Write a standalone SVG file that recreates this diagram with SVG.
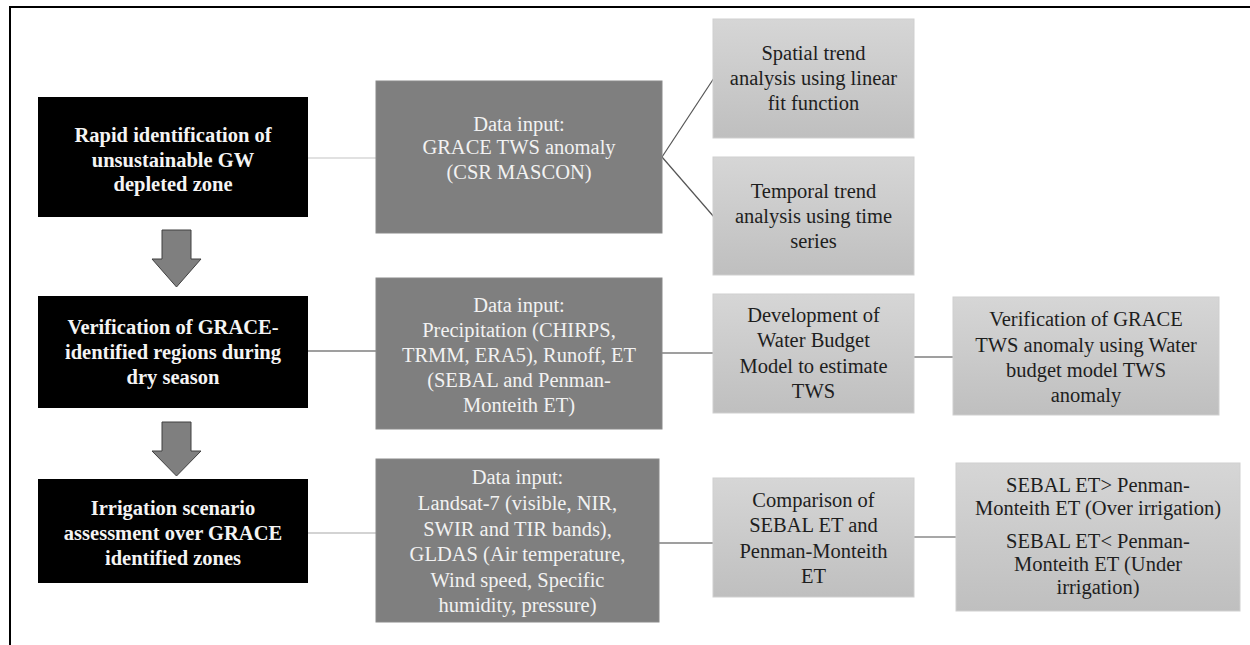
<svg xmlns="http://www.w3.org/2000/svg" width="1250" height="645" viewBox="0 0 1250 645">
<defs>
<linearGradient id="lg" x1="0" y1="0" x2="0" y2="1">
<stop offset="0" stop-color="#d6d6d6"/>
<stop offset="1" stop-color="#bfbfbf"/>
</linearGradient>
<style>
text{font-family:"Liberation Serif","Times New Roman",serif;text-anchor:middle}
.blk{fill:#000}
.blkt{fill:#f4f4f4;font-size:20.5px;font-weight:bold}
.dg{fill:#7f7f7f;stroke:#8a8a8a;stroke-width:1}
.dgt{fill:#f2f2f2;font-size:20.5px}
.lt{fill:url(#lg);stroke:#cfcfcf;stroke-width:1}
.ltt{fill:#1e1e1e;font-size:20.5px}
.arr{fill:#7f7f7f;stroke:#404040;stroke-width:1}
.c{fill:none;stroke-width:1.2}
</style>
</defs>
<rect width="1250" height="645" fill="#fff"/>
<path d="M10,645 V7 H1250" fill="none" stroke="#000" stroke-width="2"/>

<g id="connectors">
<line class="c" x1="308" y1="158" x2="376" y2="158" stroke="#c4c4c4"/>
<line class="c" x1="308" y1="351" x2="376" y2="351" stroke="#404040"/>
<line class="c" x1="308" y1="533" x2="376" y2="533" stroke="#a8a8a8"/>
<line class="c" x1="662" y1="157" x2="714" y2="78" stroke="#555"/>
<line class="c" x1="662" y1="157" x2="714" y2="217" stroke="#555"/>
<line class="c" x1="662" y1="353" x2="713" y2="353" stroke="#404040"/>
<line class="c" x1="914" y1="357" x2="953" y2="357" stroke="#404040"/>
<line class="c" x1="659" y1="543" x2="713" y2="543" stroke="#404040"/>
<line class="c" x1="914" y1="537" x2="956" y2="537" stroke="#505050"/>
</g>

<g id="arrow1"><path class="arr" d="M162,230 H191 V259 H201 L176.5,287 L152,259 H162 Z"/></g>
<g id="arrow2"><path class="arr" d="M162,422 H191 V451 H201 L176.5,476 L152,451 H162 Z"/></g>

<g id="step1">
<rect class="blk" x="38" y="97" width="270" height="120"/>
<text class="blkt"><tspan x="173" y="142">Rapid identification of</tspan><tspan x="173" y="166.5">unsustainable GW</tspan><tspan x="173" y="191">depleted zone</tspan></text>
</g>
<g id="step2">
<rect class="blk" x="38" y="296" width="270" height="112"/>
<text class="blkt"><tspan x="173" y="334">Verification of GRACE-</tspan><tspan x="173" y="359">identified regions during</tspan><tspan x="173" y="384">dry season</tspan></text>
</g>
<g id="step3">
<rect class="blk" x="38" y="479" width="270" height="104"/>
<text class="blkt"><tspan x="173" y="515">Irrigation scenario</tspan><tspan x="173" y="540">assessment over GRACE</tspan><tspan x="173" y="565">identified zones</tspan></text>
</g>

<g id="input1">
<rect class="dg" x="376" y="81" width="286" height="152"/>
<text class="dgt"><tspan x="519" y="131">Data input:</tspan><tspan x="519" y="154">GRACE TWS anomaly</tspan><tspan x="519" y="179">(CSR MASCON)</tspan></text>
</g>
<g id="input2">
<rect class="dg" x="376" y="278" width="286" height="151"/>
<text class="dgt"><tspan x="519" y="312">Data input:</tspan><tspan x="519" y="337">Precipitation (CHIRPS,</tspan><tspan x="519" y="362">TRMM, ERA5), Runoff, ET</tspan><tspan x="519" y="387">(SEBAL and Penman-</tspan><tspan x="519" y="412">Monteith ET)</tspan></text>
</g>
<g id="input3">
<rect class="dg" x="376" y="459" width="283" height="163"/>
<text class="dgt"><tspan x="517.5" y="484">Data input:</tspan><tspan x="517.5" y="510">Landsat-7 (visible, NIR,</tspan><tspan x="517.5" y="535.5">SWIR and TIR bands),</tspan><tspan x="517.5" y="561">GLDAS (Air temperature,</tspan><tspan x="517.5" y="587">Wind speed, Specific</tspan><tspan x="517.5" y="612">humidity, pressure)</tspan></text>
</g>

<g id="spatial">
<rect class="lt" x="713" y="19" width="201" height="119"/>
<text class="ltt"><tspan x="813.5" y="60">Spatial trend</tspan><tspan x="813.5" y="85">analysis using linear</tspan><tspan x="813.5" y="110">fit function</tspan></text>
</g>
<g id="temporal">
<rect class="lt" x="713" y="157" width="201" height="118"/>
<text class="ltt"><tspan x="813.5" y="198">Temporal trend</tspan><tspan x="813.5" y="223">analysis using time</tspan><tspan x="813.5" y="248">series</tspan></text>
</g>
<g id="development">
<rect class="lt" x="713" y="294" width="201" height="119"/>
<text class="ltt"><tspan x="813.5" y="322">Development of</tspan><tspan x="813.5" y="347">Water Budget</tspan><tspan x="813.5" y="373">Model to estimate</tspan><tspan x="813.5" y="398">TWS</tspan></text>
</g>
<g id="verification">
<rect class="lt" x="953" y="297" width="266" height="118"/>
<text class="ltt"><tspan x="1086" y="326">Verification of GRACE</tspan><tspan x="1086" y="351.5">TWS anomaly using Water</tspan><tspan x="1086" y="377">budget model TWS</tspan><tspan x="1086" y="402">anomaly</tspan></text>
</g>
<g id="comparison">
<rect class="lt" x="713" y="478" width="201" height="119"/>
<text class="ltt"><tspan x="813.5" y="507">Comparison of</tspan><tspan x="813.5" y="532">SEBAL ET and</tspan><tspan x="813.5" y="558">Penman-Monteith</tspan><tspan x="813.5" y="583">ET</tspan></text>
</g>
<g id="scenario">
<rect class="lt" x="956" y="463" width="284" height="148"/>
<text class="ltt"><tspan x="1098" y="492">SEBAL ET&gt; Penman-</tspan><tspan x="1098" y="515">Monteith ET (Over irrigation)</tspan><tspan x="1098" y="548">SEBAL ET&lt; Penman-</tspan><tspan x="1098" y="571">Monteith ET (Under</tspan><tspan x="1098" y="594">irrigation)</tspan></text>
</g>
</svg>
